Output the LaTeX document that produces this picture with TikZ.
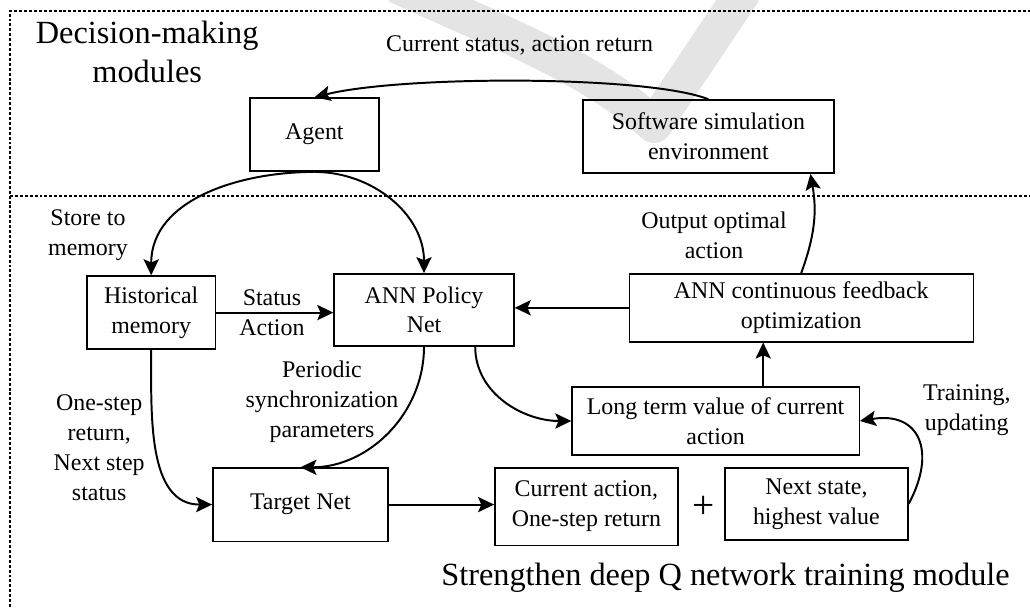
\documentclass[tikz,border=0pt]{standalone}
\usepackage{fontspec}
\setmainfont{Liberation Serif}
\usetikzlibrary{arrows.meta,positioning,calc}
\definecolor{Ink}{HTML}{000000}
\definecolor{Mark}{HTML}{E4E4E4}
\newcommand{\boxfont}{\fontsize{17}{21.3}\selectfont}
\newcommand{\bigfont}{\fontsize{23}{27.7}\selectfont}
\tikzset{box/.style={draw=Ink,line width=1pt,align=center,font=\boxfont,text=Ink,inner sep=0pt},flow/.style={-{Stealth[length=4mm,width=3.8mm,inset=0.8mm]},line width=1.4pt,draw=Ink},lab/.style={font=\boxfont,text=Ink,align=center,inner sep=0pt},sep/.style={draw=Ink,line width=0.85pt,dash pattern=on 2.1pt off 1.4pt},title/.style={font=\bigfont,text=Ink,align=center,inner sep=0pt}}

\begin{document}
\begin{tikzpicture}
\useasboundingbox (0,0) rectangle (25.75,15.175);
% faint mark behind the picture
\begin{scope}
\clip (0,0) rectangle (25.75,15.175);
\draw[Mark,line width=0.9cm,line join=round] (9.9,15.55) .. controls (12.4,14.4) and (14.8,13.5) .. (16.35,12.05) -- (18.6,15.4);
\end{scope}
% module frames
\draw[sep] (0.25,0) -- (0.25,14.9) -- (25.75,14.9);
\draw[sep] (0.25,10.275) -- (25.75,10.275);
\node[title] (dm) at (3.68,13.88) {Decision-making\\modules};
\node[title,anchor=east] (dq) at (25.25,0.73) {Strengthen deep Q network training module};
% boxes
\node[box,minimum width=3.23cm,minimum height=1.83cm] (agent) at (7.86,11.81) {Agent};
\node[box,minimum width=6.28cm,minimum height=1.83cm] (env) at (17.71,11.76) {Software simulation\\environment};
\node[box,minimum width=3.2cm,minimum height=1.83cm] (hist) at (3.78,7.36) {Historical\\memory};
\node[box,minimum width=4.5cm,minimum height=1.8cm] (policy) at (10.6,7.43) {ANN Policy\\Net};
\node[box,minimum width=8.6cm,minimum height=1.7cm] (feedback) at (20.03,7.48) {ANN continuous feedback\\optimization};
\node[box,minimum width=7.18cm,minimum height=1.7cm] (longterm) at (17.89,4.65) {Long term value of current\\action};
\node[box,minimum width=4.38cm,minimum height=1.83cm] (target) at (7.51,2.56) {Target Net};
\node[box,minimum width=4.58cm,minimum height=1.93cm] (curact) at (14.66,2.51) {Current action,\\One-step return};
\node[box,minimum width=4.58cm,minimum height=1.8cm] (nextst) at (20.41,2.58) {Next state,\\highest value};
\node[lab,font=\fontsize{28}{30}\selectfont] (plus) at (17.58,2.5) {+};
% labels
\node[lab] (lstat) at (12.99,14.03) {Current status, action return};
\node[lab] (lstore) at (2.2,9.3) {Store to\\memory};
\node[lab] (lsa) at (6.8,7.35) {Status\\Action};
\node[lab] (lsync) at (8.05,5.13) {Periodic\\synchronization\\parameters};
\node[lab] (lret) at (2.48,3.98) {One-step\\return,\\Next step\\status};
\node[lab] (lout) at (17.85,9.3) {Output optimal\\action};
\node[lab] (ltrain) at (24.17,4.93) {Training,\\updating};
% connectors
\draw[flow] (env.north) .. controls +(-1.5,0.6) and +(2.2,0.55) .. (agent.north);
\draw[flow] (agent.south) to[out=180,in=90] (hist.north);
\draw[flow] (agent.south) to[out=0,in=90] (policy.north);
\draw[flow] (hist.east) -- (hist.east -| policy.west);
\draw[flow] (feedback.west) -- (feedback.west -| policy.east);
\draw[flow] (feedback.north) to[out=70,in=-80] ([xshift=2.55cm]env.south);
\draw[flow] ([xshift=1.19cm]longterm.north) -- ([xshift=1.19cm]longterm.north |- feedback.south);
\draw[flow] ([xshift=1.28cm]policy.south) to[out=-90,in=180] (longterm.west);
\draw[flow] (policy.south) to[out=-90,in=0] (target.north);
\draw[flow] (hist.south) to[out=-90,in=180] (target.west);
\draw[flow] (target.east) -- (target.east -| curact.west);
\draw[flow] (nextst.east) .. controls +(0.7,1.3) and +(1.5,0.25) .. (longterm.east);
\end{tikzpicture}
\end{document}
